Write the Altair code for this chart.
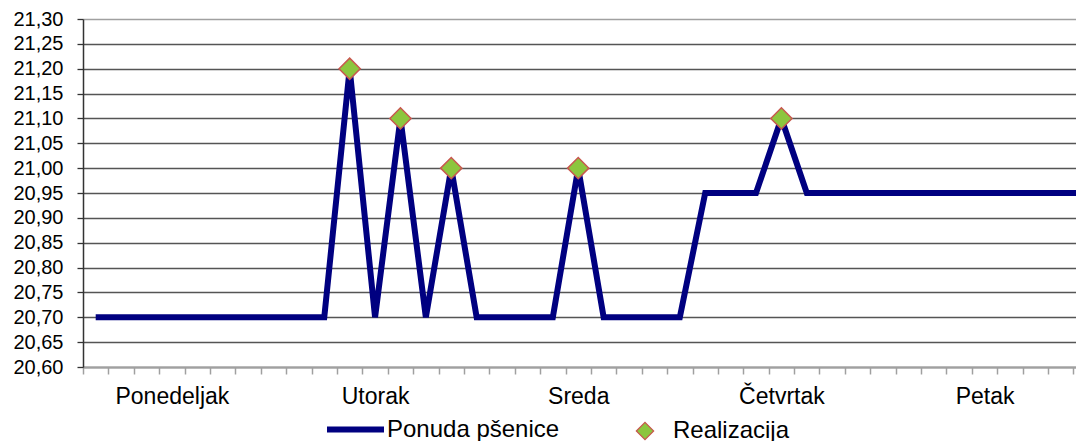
import altair as alt
import pandas as pd

# Categories (40 half-day slots), series values
slot = list(range(40))
ponuda = [20.70, 20.70, 20.70, 20.70, 20.70, 20.70, 20.70, 20.70, 20.70, 20.70,
          21.20, 20.70, 21.10, 20.70, 21.00, 20.70, 20.70, 20.70, 20.70, 21.00,
          20.70, 20.70, 20.70, 20.70, 20.95, 20.95, 20.95, 21.10, 20.95, 20.95,
          20.95, 20.95, 20.95, 20.95, 20.95, 20.95, 20.95, 20.95, 20.95, 20.95]
real_slot = [10, 12, 14, 19, 27]
realizacija = [21.20, 21.10, 21.00, 21.00, 21.10]

day_labels = ["Ponedeljak", "Utorak", "Sreda", "Četvrtak", "Petak"]
day_label_slot = [3, 11, 19, 27, 35]
y_ticks = [20.60, 20.65, 20.70, 20.75, 20.80, 20.85, 20.90, 20.95, 21.00,
           21.05, 21.10, 21.15, 21.20, 21.25, 21.30]

line_df = pd.DataFrame({"x": [s + 0.5 for s in slot], "y": ponuda,
                        "serija": ["Ponuda pšenice"] * len(slot)})
pt_df = pd.DataFrame({"x": [s + 0.5 for s in real_slot], "y": realizacija,
                      "serija": ["Realizacija"] * len(real_slot)})

label_pos = [s + 0.5 for s in day_label_slot]
x_values = list(range(40)) + label_pos
expr = "''"
for p, name in zip(reversed(label_pos), reversed(day_labels)):
    expr = f"datum.value == {p} ? '{name}' : ({expr})"

FONT = "Liberation Sans"

x_enc = alt.X("x:Q",
              scale=alt.Scale(domain=[0, 39.1], nice=False, zero=False),
              axis=alt.Axis(title=None, values=x_values, labelExpr=expr,
                            grid=False, labelOverlap=False, labelFlush=False,
                            domainColor="#a0a0a0", domainWidth=2,
                            tickColor="#a0a0a0", tickWidth=1.5, tickSize=7,
                            tickOpacity={"condition": {"test": "datum.value % 1 != 0", "value": 0}, "value": 1},
                            labelFontSize=23, labelFont=FONT, labelColor="#000000",
                            labelPadding=11))
y_enc = alt.Y("y:Q",
              scale=alt.Scale(domain=[20.6, 21.3], nice=False, zero=False),
              axis=alt.Axis(title=None, values=y_ticks,
                            labelExpr="replace(format(datum.value, '.2f'), '.', ',')",
                            grid=True,
                            gridColor={"condition": {"test": "datum.value > 21.29", "value": "#a0a0a0"}, "value": "#555555"},
                            gridWidth=1.3,
                            domainColor="#333333", domainWidth=1.5,
                            tickColor="#333333", tickWidth=1.3, tickSize=6,
                            labelFontSize=20, labelFont=FONT, labelColor="#000000",
                            labelPadding=14))

line = alt.Chart(line_df).mark_line(strokeWidth=6, strokeJoin="miter", clip=True).encode(
    x=x_enc, y=y_enc,
    stroke=alt.Stroke("serija:N",
                      scale=alt.Scale(domain=["Ponuda pšenice"], range=["#000080"]),
                      legend=alt.Legend(title=None, orient="none", legendX=241, legendY=379,
                                        symbolType="stroke", symbolSize=3249,
                                        symbolStrokeWidth=6, labelLimit=500,
                                        labelFontSize=24, labelFont=FONT, labelColor="#000000",
                                        labelOffset=0))
)

pts = alt.Chart(pt_df).mark_point(shape="diamond", filled=True, size=450, opacity=1,
                                  stroke="#C8584F", strokeWidth=1.5).encode(
    x=x_enc, y=y_enc,
    fill=alt.Fill("serija:N",
                  scale=alt.Scale(domain=["Realizacija"], range=["#8CC63E"]),
                  legend=alt.Legend(title=None, orient="none", legendX=550, legendY=400,
                                    symbolType="diamond", symbolSize=300,
                                    symbolStrokeColor="#C8584F", symbolStrokeWidth=1.2,
                                    symbolOpacity=1, labelLimit=500,
                                    labelFontSize=24, labelFont=FONT, labelColor="#000000",
                                    labelOffset=16))
)

chart = alt.layer(line, pts).resolve_scale(stroke="independent", fill="independent").properties(
    width=993, height=348,
    padding={"left": 4, "top": 1, "right": 0, "bottom": 0},
    background="#ffffff"
).configure_view(stroke=None)

chart.save("out.html", embed_options={"renderer": "svg", "actions": False})
